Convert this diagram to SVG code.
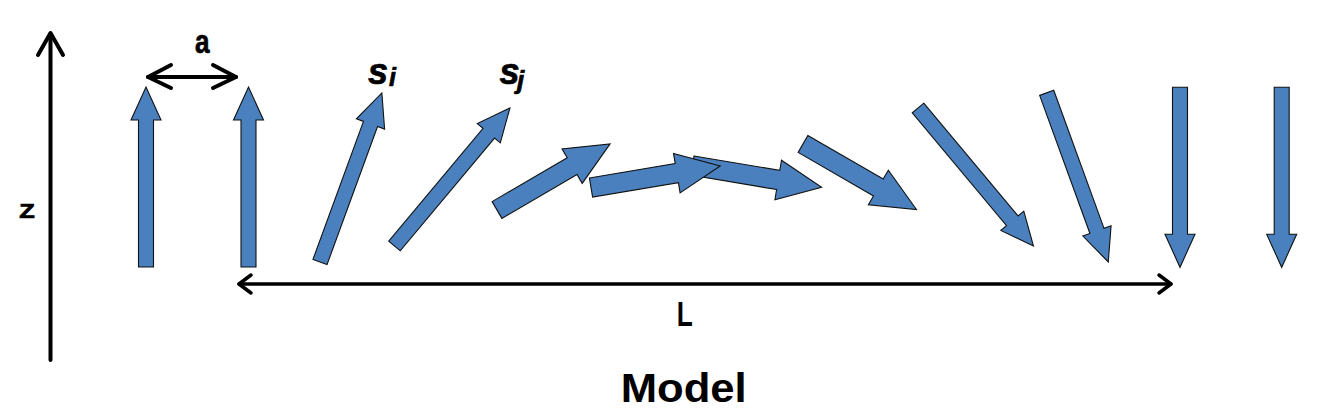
<svg xmlns="http://www.w3.org/2000/svg" xmlns:xlink="http://www.w3.org/1999/xlink" width="1334" height="420" viewBox="0 0 1334 420">
<style>
.spin{fill:#4a80bd;stroke:#111;stroke-width:1.1;stroke-linejoin:miter}
.dim{fill:none;stroke:#000;stroke-linecap:round;stroke-linejoin:round}
.lbl{font-family:"Liberation Sans",Arial,sans-serif;font-weight:bold;fill:#000}
.heavy{stroke:#000;stroke-width:0.7}
.it{font-style:italic}
</style>
<defs>
<polygon id="longArrow" points="0,-7.5 147,-7.5 147,-15 180,0 147,15 147,7.5 0,7.5"/>
<polygon id="shortArrow" points="0,-9.7 87,-9.7 87,-20 131,0 87,20 87,9.7 0,9.7"/>
</defs>
<rect width="1334" height="420" fill="#fff"/>
<g id="connectors">
<g id="z-axis" class="dim" stroke-width="4">
<line x1="50.5" y1="360" x2="50.5" y2="34"/>
<polyline points="38,55 50.5,33 63,55"/>
</g>
<g id="a-dim" class="dim" stroke-width="4">
<line x1="148" y1="77" x2="236" y2="77"/>
<polyline points="171,65 148,77 171,88"/>
<polyline points="213,65 236,77 213,88"/>
</g>
<g id="L-dim" class="dim" stroke-width="3.5">
<line x1="239" y1="284" x2="1171" y2="284"/>
<polyline points="251,275 239,284 251,293"/>
<polyline points="1159,275 1171,284 1159,293"/>
</g>
</g>
<g id="spin1"><use xlink:href="#longArrow" class="spin" transform="translate(146,267) rotate(-90)"/></g>
<g id="spin2"><use xlink:href="#longArrow" class="spin" transform="translate(248.5,267) rotate(-90)"/></g>
<g id="spin3"><use xlink:href="#longArrow" class="spin" transform="translate(320,262) rotate(-69.9)"/></g>
<g id="spin4"><use xlink:href="#longArrow" class="spin" transform="translate(394.5,246) rotate(-50.1)"/></g>
<g id="spin5"><use xlink:href="#shortArrow" class="spin" transform="translate(497,210) rotate(-30.3)"/></g>
<g id="spin7"><use xlink:href="#shortArrow" class="spin" transform="translate(692.4,165.6) rotate(9.5)"/></g>
<g id="spin6"><use xlink:href="#shortArrow" class="spin" transform="translate(591,187.5) rotate(-9.5)"/></g>
<g id="spin8"><use xlink:href="#shortArrow" class="spin" transform="translate(803,144) rotate(30)"/></g>
<g id="spin9"><use xlink:href="#longArrow" class="spin" transform="translate(918,108) rotate(50.1)"/></g>
<g id="spin10"><use xlink:href="#longArrow" class="spin" transform="translate(1046.7,92.8) rotate(70)"/></g>
<g id="spin11"><use xlink:href="#longArrow" class="spin" transform="translate(1180,87.3) rotate(90)"/></g>
<g id="spin12"><use xlink:href="#longArrow" class="spin" transform="translate(1281.7,87.3) rotate(90)"/></g>
<g id="labels">
<text class="lbl heavy" x="195" y="53.3" font-size="34" textLength="14.5" lengthAdjust="spacingAndGlyphs">a</text>
<text class="lbl heavy" x="19.3" y="218.3" font-size="20" textLength="15.5" lengthAdjust="spacingAndGlyphs">Z</text>
<text class="lbl it heavy" x="368" y="83.5" font-size="36">s</text>
<text class="lbl it heavy" x="389" y="86" font-size="25">i</text>
<text class="lbl it heavy" x="499.5" y="83.5" font-size="36">s</text>
<text class="lbl it heavy" x="517" y="88.5" font-size="26">j</text>
<text class="lbl" x="676.7" y="326" font-size="35" textLength="16" lengthAdjust="spacingAndGlyphs">L</text>
<text class="lbl" x="620.7" y="402" font-size="40" textLength="126" lengthAdjust="spacingAndGlyphs">Model</text>
</g>
</svg>
